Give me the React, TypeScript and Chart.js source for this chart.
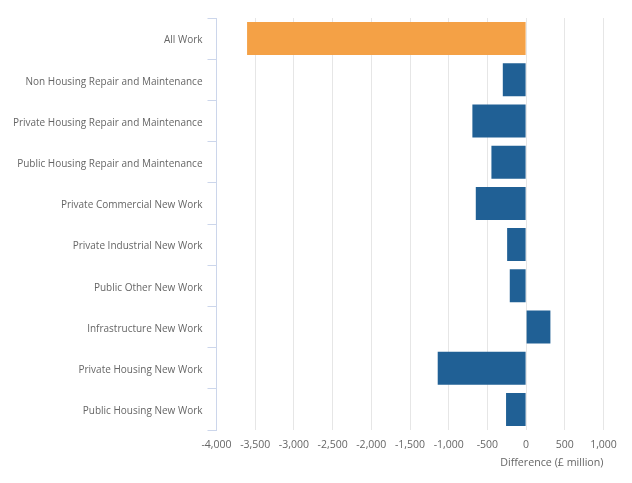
import React, { useEffect, useRef } from "react";
import { Chart, registerables } from "chart.js";

Chart.register(...registerables);

const categories: string[] = [
  "All Work",
  "Non Housing Repair and Maintenance",
  "Private Housing Repair and Maintenance",
  "Public Housing Repair and Maintenance",
  "Private Commercial New Work",
  "Private Industrial New Work",
  "Public Other New Work",
  "Infrastructure New Work",
  "Private Housing New Work",
  "Public Housing New Work",
];

const differenceValues: number[] = [-3605, -301, -694, -448, -650, -245, -211, 314, -1142, -259];

const barColors: string[] = [
  "#F4A146",
  "#206095",
  "#206095",
  "#206095",
  "#206095",
  "#206095",
  "#206095",
  "#206095",
  "#206095",
  "#206095",
];

const xMin = -4000;
const xMax = 1000;
const xStep = 500;
const xTitle = "Difference (£ million)";

export default function App() {
  const ref = useRef<HTMLCanvasElement | null>(null);

  useEffect(() => {
    if (!ref.current) return;
    const chart = new Chart(ref.current, {
      type: "bar",
      data: {
        labels: categories,
        datasets: [
          {
            data: differenceValues,
            backgroundColor: barColors,
            borderWidth: 0,
            barPercentage: 0.8,
            categoryPercentage: 1,
          },
        ],
      },
      options: {
        indexAxis: "y",
        animation: false,
        responsive: true,
        maintainAspectRatio: false,
        layout: { padding: { top: 18, right: 28.5, bottom: 0, left: 0 } },
        plugins: {
          legend: { display: false },
          tooltip: { enabled: false },
        },
        scales: {
          x: {
            min: xMin,
            max: xMax,
            afterFit: (scale: any) => {
              scale.height = 53;
            },
            ticks: {
              stepSize: xStep,
              padding: 9,
              color: "#666666",
              font: { family: "'Open Sans'", size: 10.5 },
              callback: (v: any) => Number(v).toLocaleString("en-US"),
              maxRotation: 0,
            },
            grid: {
              color: "#e6e6e6",
              drawTicks: false,
            },
            border: { display: false },
            title: {
              display: true,
              text: xTitle,
              align: "end",
              color: "#666666",
              font: { family: "'Open Sans'", size: 10.7 },
              padding: { top: 4, bottom: 13.5 },
            },
          },
          y: {
            afterFit: (scale: any) => {
              scale.width = 216.5;
            },
            ticks: {
              padding: 5,
              labelOffset: 2,
              color: "#666666",
              font: { family: "'Open Sans'", size: 10 },
            },
            grid: {
              drawOnChartArea: false,
              drawTicks: true,
              tickLength: 9,
              color: "#ccd6eb",
              offset: true,
            },
            border: { display: true, color: "#ccd6eb", width: 1 },
          },
        },
      },
    });
    return () => chart.destroy();
  }, []);

  return (
    <div style={{ position: "fixed", left: 0, top: 0, width: 632, height: 483, background: "#fff" }}>
      <canvas ref={ref} />
    </div>
  );
}
